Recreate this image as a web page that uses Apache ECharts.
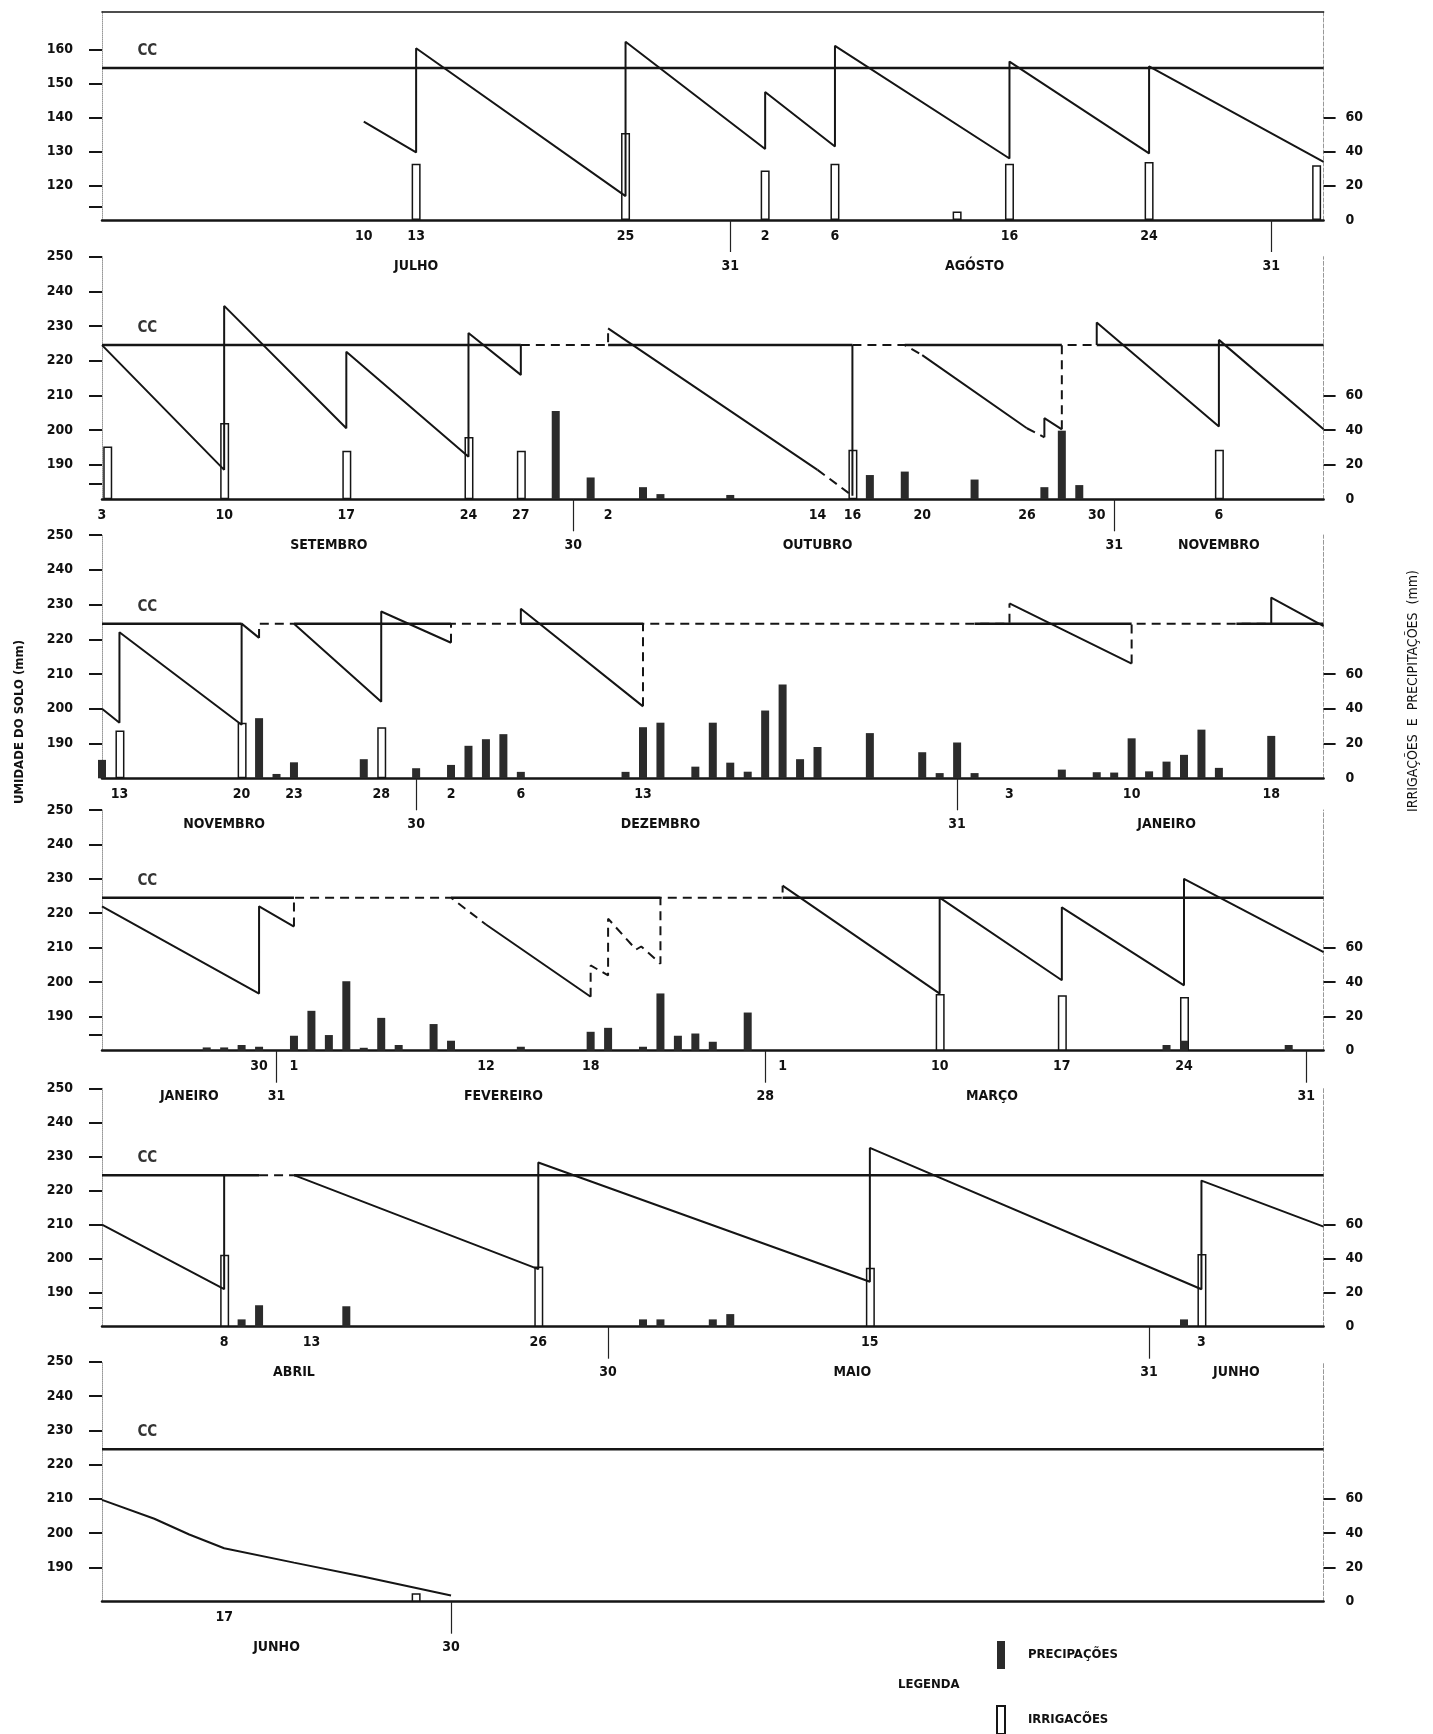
<!DOCTYPE html>
<html><head><meta charset="utf-8">
<script src="https://cdn.jsdelivr.net/npm/echarts@6/dist/echarts.min.js"></script>
<style>html,body{margin:0;padding:0;background:#fff}#c{width:1433px;height:1734px}</style>
</head><body><div id="c"></div>
<script>
// ===== DATA (day index: 1 = 1 July) =====
const p1Range = [-5, 65];
const p2Range = [65, 135];
const p3Range = [135, 205];
const p4Range = [205, 275];
const p5Range = [275, 345];
const p6Range = [345, 415];

const p1Cc = 154.5;
const ccOther = 224.5;

// date labels (first row)
const p1DayTicks = [10, 13, 25, 33, 37, 47, 55];
const p1DayLabels = ['10', '13', '25', '2', '6', '16', '24'];
const p2DayTicks = [65, 72, 79, 86, 89, 94, 106, 108, 112, 118, 122, 129];
const p2DayLabels = ['3', '10', '17', '24', '27', '2', '14', '16', '20', '26', '30', '6'];
const p3DayTicks = [136, 143, 146, 151, 155, 159, 166, 187, 194, 202];
const p3DayLabels = ['13', '20', '23', '28', '2', '6', '13', '3', '10', '18'];
const p4DayTicks = [214, 216, 227, 233, 244, 253, 260, 267];
const p4DayLabels = ['30', '1', '12', '18', '1', '10', '17', '24'];
const p5DayTicks = [282, 287, 300, 319, 338];
const p5DayLabels = ['8', '13', '26', '15', '3'];
const p6DayTicks = [352];
const p6DayLabels = ['17'];

// month row labels
const p1MonthTicks = [13, 31, 45, 62];
const p1MonthLabels = ['JULHO', '31', 'AGÓSTO', '31'];
const p2MonthTicks = [78, 92, 106, 123, 129];
const p2MonthLabels = ['SETEMBRO', '30', 'OUTUBRO', '31', 'NOVEMBRO'];
const p3MonthTicks = [142, 153, 167, 184, 196];
const p3MonthLabels = ['NOVEMBRO', '30', 'DEZEMBRO', '31', 'JANEIRO'];
const p4MonthTicks = [210, 215, 228, 243, 256, 274];
const p4MonthLabels = ['JANEIRO', '31', 'FEVEREIRO', '28', 'MARÇO', '31'];
const p5MonthTicks = [286, 304, 318, 335, 340];
const p5MonthLabels = ['ABRIL', '30', 'MAIO', '31', 'JUNHO'];
const p6MonthTicks = [355, 365];
const p6MonthLabels = ['JUNHO', '30'];

// month ends (separator ticks)
const p1MonthEnds = [31, 62];
const p2MonthEnds = [92, 123];
const p3MonthEnds = [153, 184];
const p4MonthEnds = [215, 243, 274];
const p5MonthEnds = [304, 335];
const p6MonthEnds = [365];

// left axis (soil moisture, mm) tick labels
const p1MoistLabels = [120, 130, 140, 150, 160];
const otherMoistLabels = [190, 200, 210, 220, 230, 240, 250];
// right axis (mm) tick labels
const mmLabels = [0, 20, 40, 60];
const mmTicks = [20, 40, 60];

// soil moisture lines (segments of [day, mm])
const p1MoistSolid = [[[10,138.8],[13,129.8],[13,160.3],[25,117],[25,162.2],[33,130.8],[33,147.5],[37,131.5],[37,161],[47,128],[47,156.4],[55,129.5],[55,155],[65,127]]];
const p1MoistDashed = [];
const p2MoistSolid = [
  [[65,224.5],[72,188.5],[72,235.8],[79,200.5],[79,222.6],[86,192.3],[86,228],[89,215.9],[89,224.5]],
  [[94,229.3],[106,188.5]],
  [[108,181],[108,224.5]],
  [[112,221.6],[118,200.5]],
  [[119,197.9],[119,203.4],[120,200.2]],
  [[122,224.5],[122,231],[129,201],[129,226],[135,200.2]]
];
const p2MoistDashed = [
  [[89,224.5],[94,224.5],[94,229.3]],
  [[106,188.5],[108,181]],
  [[108,224.5],[111,224.5],[112,221.6]],
  [[118,200.5],[119,197.9]],
  [[120,200.2],[120,224.5],[122,224.5]]
];
const p3MoistSolid = [
  [[135,200],[136,196],[136,222],[143,195.4],[143,224.5],[144,220.4]],
  [[146,224.5],[151,202],[151,228],[155,219]],
  [[159,224.5],[159,228.8],[166,200.7]],
  [[187,230.3],[194,213]],
  [[202,224.5],[202,232],[205,223.8]]
];
const p3MoistDashed = [
  [[144,220.4],[144,224.5],[146,224.5]],
  [[155,219],[155,224.5],[159,224.5]],
  [[166,200.7],[166,224.5],[187,224.5],[187,230.3]],
  [[194,213],[194,224.5],[202,224.5]]
];
const p4MoistSolid = [
  [[205,222],[214,196.6],[214,222],[216,216.1]],
  [[227,216.7],[233,195.7]],
  [[244,228],[253,196.6],[253,224.5],[260,200.5],[260,221.7],[267,199],[267,230],[275,208.7]]
];
const p4MoistDashed = [
  [[216,216.1],[216,224.5],[225,224.5],[227,216.7]],
  [[233,195.7],[233,204.8],[234,201.9],[234,218.4],[235.6,209.4],[235.9,210.3],[237,205.3],[237,224.5],[244,224.5],[244,228]]
];
const p5MoistSolid = [
  [[275,210],[282,191],[282,224.5]],
  [[286,224.5],[300,196.9],[300,228.2],[319,193.2],[319,232.5],[338,191],[338,222.9],[345,209.4]]
];
const p5MoistDashed = [[[284,224.5],[286,224.5]]];
const p6MoistSolid = [[[345,209.7],[348,204.2],[350,199.6],[352,195.6],[356,191.4],[360,187.3],[365,181.8]]];
const p6MoistDashed = [];

// field capacity (CC) solid stretches [from, to]
const p1CcSolid = [[-5, 65]];
const p2CcSolid = [[65, 89], [94, 108], [111, 120], [122, 135]];
const p3CcSolid = [[135, 143], [146, 155], [159, 166], [185, 194], [200, 205]];
const p4CcSolid = [[205, 216], [225, 237], [244, 275]];
const p5CcSolid = [[275, 284], [286, 345]];
const p6CcSolid = [[345, 415]];

// irrigations [day, mm]
const p1Irrigation = [[13,33],[25,51],[33,29],[37,33],[44,5],[47,33],[55,34],[64.6,32]];
const p2Irrigation = [[65.3,30.5],[72,44],[79,28],[86,36],[89,28],[108,28.6],[129,28.6]];
const p3Irrigation = [[136,27.5],[143,32],[151,29.4]];
const p4Irrigation = [[253,33],[260,32.3],[267,31.3]];
const p5Irrigation = [[282,42.3],[300,35.3],[319,34.6],[338,42.7]];
const p6Irrigation = [[363,5]];

// precipitations [day, mm]
const p1Precipitation = [];
const p2Precipitation = [[91,51],[93,12.6],[96,7],[97,3],[101,2.5],[109,14],[111,16],[115,11.4],[119,7],[120,39.6],[121,8.2]];
const p3Precipitation = [[135,10.6],[144,34.6],[145,2.5],[146,9.2],[150,11],[153,5.8],[155,7.7],[156,18.7],[157,22.5],[158,25.4],[159,3.7],[165,3.7],[166,29.4],[167,32],[169,6.7],[170,32],[171,9],[172,3.8],[173,39],[174,54],[175,11],[176,18],[179,26],[182,15],[183,3],[184,20.6],[185,3],[190,5],[192,3.5],[193,3.3],[194,23],[195,4],[196,9.6],[197,13.5],[198,28],[199,6],[202,24.4]];
const p4Precipitation = [[211,1.9],[212,1.9],[213,3.3],[214,2.3],[216,8.7],[217,23.2],[218,9.1],[219,40.4],[220,1.7],[221,19.1],[222,3.3],[224,15.5],[225,5.8],[229,2.3],[233,11],[234,13.3],[236,2.3],[237,33.3],[238,8.7],[239,10],[240,5.2],[242,22.2],[266,3.3],[267,5.8],[273,3.3]];
const p5Precipitation = [[283,4.3],[284,12.6],[289,12],[306,4.3],[307,4.3],[310,4.3],[311,7.4],[337,4.3]];
const p6Precipitation = [];

// ===== BUILD =====
const FONT = "'DejaVu Sans Condensed','Liberation Sans Narrow','DejaVu Sans',sans-serif";
const INK = '#151515';
const gridTops = [11.7, 256.7, 535, 810, 1088.3, 1361.7];
const gridHeights = [208.3, 242.6, 243.3, 240.7, 238.4, 240];

const panels = [
  {range:p1Range, cc:p1Cc, yMin:110, yMax:171, moistLabels:p1MoistLabels, breakTick:114, dayTicks:p1DayTicks, dayLabels:p1DayLabels, monthTicks:p1MonthTicks, monthLabels:p1MonthLabels, monthEnds:p1MonthEnds, solid:p1MoistSolid, dashed:p1MoistDashed, ccSolid:p1CcSolid, irr:p1Irrigation, pre:p1Precipitation},
  {range:p2Range, cc:ccOther, yMin:180, yMax:250, moistLabels:otherMoistLabels, breakTick:184.5, dayTicks:p2DayTicks, dayLabels:p2DayLabels, monthTicks:p2MonthTicks, monthLabels:p2MonthLabels, monthEnds:p2MonthEnds, solid:p2MoistSolid, dashed:p2MoistDashed, ccSolid:p2CcSolid, irr:p2Irrigation, pre:p2Precipitation},
  {range:p3Range, cc:ccOther, yMin:180, yMax:250, moistLabels:otherMoistLabels, breakTick:null, dayTicks:p3DayTicks, dayLabels:p3DayLabels, monthTicks:p3MonthTicks, monthLabels:p3MonthLabels, monthEnds:p3MonthEnds, solid:p3MoistSolid, dashed:p3MoistDashed, ccSolid:p3CcSolid, irr:p3Irrigation, pre:p3Precipitation},
  {range:p4Range, cc:ccOther, yMin:180, yMax:250, moistLabels:otherMoistLabels, breakTick:184.5, dayTicks:p4DayTicks, dayLabels:p4DayLabels, monthTicks:p4MonthTicks, monthLabels:p4MonthLabels, monthEnds:p4MonthEnds, solid:p4MoistSolid, dashed:p4MoistDashed, ccSolid:p4CcSolid, irr:p4Irrigation, pre:p4Precipitation},
  {range:p5Range, cc:ccOther, yMin:180, yMax:250, moistLabels:otherMoistLabels, breakTick:185.5, dayTicks:p5DayTicks, dayLabels:p5DayLabels, monthTicks:p5MonthTicks, monthLabels:p5MonthLabels, monthEnds:p5MonthEnds, solid:p5MoistSolid, dashed:p5MoistDashed, ccSolid:p5CcSolid, irr:p5Irrigation, pre:p5Precipitation},
  {range:p6Range, cc:ccOther, yMin:180, yMax:250, moistLabels:otherMoistLabels, breakTick:null, dayTicks:p6DayTicks, dayLabels:p6DayLabels, monthTicks:p6MonthTicks, monthLabels:p6MonthLabels, monthEnds:p6MonthEnds, solid:p6MoistSolid, dashed:p6MoistDashed, ccSolid:p6CcSolid, irr:p6Irrigation, pre:p6Precipitation}
];

function flat(list) {
  const out = [];
  list.forEach((s, i) => { if (i > 0) out.push([s[0][0], '-']); s.forEach(p => out.push(p)); });
  return out;
}
function ccFlat(list, cc) { return flat(list.map(([a, b]) => [[a, cc], [b, cc]])); }

const grids = [], xAxes = [], yAxes = [], series = [];
const lblStyle = {fontFamily: FONT, fontWeight: 'bold', color: '#111'};

panels.forEach((p, i) => {
  grids.push({left: 102, width: 1221.6, top: gridTops[i], height: gridHeights[i]});
  const dayMap = {}; p.dayTicks.forEach((d, k) => dayMap[d] = p.dayLabels[k]);
  const monMap = {}; p.monthTicks.forEach((d, k) => monMap[d] = p.monthLabels[k]);
  const xi = xAxes.length;
  xAxes.push({type: 'value', gridIndex: i, min: p.range[0], max: p.range[1], position: 'bottom',
    axisLine: {show: true, onZero: false, lineStyle: {color: INK, width: 2.5}},
    axisTick: {show: true, customValues: p.monthEnds, length: 32, lineStyle: {color: '#222', width: 1.2}},
    axisLabel: Object.assign({customValues: p.dayTicks, formatter: v => dayMap[v] ?? '', margin: 9, fontSize: 14}, lblStyle),
    splitLine: {show: false}});
  xAxes.push({type: 'value', gridIndex: i, min: p.range[0], max: p.range[1], position: 'bottom', offset: 30,
    axisLine: {show: false, onZero: false}, axisTick: {show: false},
    axisLabel: Object.assign({customValues: p.monthTicks, formatter: v => monMap[v] ?? '', margin: 9, fontSize: 14}, lblStyle),
    splitLine: {show: false}});
  if (i === 0) {
    xAxes.push({type: 'value', gridIndex: i, min: p.range[0], max: p.range[1], position: 'top',
      axisLine: {show: true, onZero: false, lineStyle: {color: INK, width: 1.6}},
      axisTick: {show: false}, axisLabel: {show: false}, splitLine: {show: false}});
  }
  const yi = yAxes.length;
  const leftTicks = p.moistLabels.slice(); if (p.breakTick != null) leftTicks.push(p.breakTick);
  yAxes.push({type: 'value', gridIndex: i, position: 'left', min: p.yMin, max: p.yMax,
    axisLine: {show: true, onZero: false, lineStyle: {color: '#999', type: 'dotted', width: 1}},
    axisTick: {show: true, customValues: leftTicks, length: 13, lineStyle: {color: INK, width: 2}},
    axisLabel: Object.assign({customValues: p.moistLabels, margin: 29, fontSize: 14}, lblStyle),
    splitLine: {show: false}});
  yAxes.push({type: 'value', gridIndex: i, position: 'right', min: 0, max: 2 * (p.yMax - p.yMin),
    axisLine: {show: true, onZero: false, lineStyle: {color: '#999', type: 'dashed', width: 1}},
    axisTick: {show: true, customValues: mmTicks, length: 12, lineStyle: {color: INK, width: 2}},
    axisLabel: Object.assign({customValues: mmLabels, margin: 22, fontSize: 14}, lblStyle),
    splitLine: {show: false}});

  if (p.irr.length) series.push({type: 'bar', name: 'IRRIGACÕES', xAxisIndex: xi, yAxisIndex: yi + 1, data: p.irr,
    barWidth: 9, barGap: '-100%', itemStyle: {color: '#fff', borderColor: INK, borderWidth: 1.5}, z: 2});
  if (p.pre.length) series.push({type: 'bar', name: 'PRECIPAÇÕES', xAxisIndex: xi, yAxisIndex: yi + 1, data: p.pre,
    barWidth: 8, barGap: '-100%', itemStyle: {color: '#2b2b2b'}, z: 2});
  series.push({type: 'line', name: 'CC', xAxisIndex: xi, yAxisIndex: yi, data: ccFlat(p.ccSolid, p.cc),
    showSymbol: false, lineStyle: {color: INK, width: 2.5}, z: 3});
  series.push({type: 'line', name: 'umidade', xAxisIndex: xi, yAxisIndex: yi, data: flat(p.solid),
    showSymbol: false, lineStyle: {color: INK, width: 2}, z: 4});
  if (p.dashed.length) series.push({type: 'line', name: 'umidade cc', xAxisIndex: xi, yAxisIndex: yi, data: flat(p.dashed),
    showSymbol: false, lineStyle: {color: INK, width: 2, type: [9, 6]}, z: 4});
  series.push({type: 'scatter', name: 'cclabel', xAxisIndex: xi, yAxisIndex: yi, data: [[p.range[0] + 2.6, p.cc]],
    symbolSize: 1, itemStyle: {color: 'rgba(0,0,0,0)'}, z: 5,
    label: Object.assign({show: true, formatter: 'CC', position: 'top', distance: 9, fontSize: 15}, lblStyle, {color: '#000'})});
});

const chart = echarts.init(document.getElementById('c'), null, {renderer: 'canvas'});
chart.setOption({
  backgroundColor: '#fff',
  animation: false,
  grid: grids, xAxis: xAxes, yAxis: yAxes, series: series,
  legend: {data: ['PRECIPAÇÕES', 'IRRIGACÕES'], orient: 'vertical', left: 996, top: 1641, height: 100, padding: 0,
    itemWidth: 8, itemHeight: 28, itemGap: 36, icon: 'rect', selectedMode: false,
    textStyle: {fontFamily: FONT, fontWeight: 'bold', fontSize: 13, color: '#111', padding: [0, 0, 0, 18]}},
  graphic: [
    {type: 'text', x: 20, y: 722, rotation: Math.PI / 2,
      style: {text: 'UMIDADE DO SOLO (mm)', align: 'center', verticalAlign: 'middle', font: "bold 13px " + FONT, fill: '#111'}},
    {type: 'text', x: 1413, y: 691, rotation: Math.PI / 2,
      style: {text: 'IRRIGAÇÕES  E  PRECIPITAÇÕES  (mm)', align: 'center', verticalAlign: 'middle', font: "14px " + FONT, fill: '#111'}},
    {type: 'text', x: 898, y: 1685,
      style: {text: 'LEGENDA', align: 'left', verticalAlign: 'middle', font: "bold 13px " + FONT, fill: '#111'}}
  ]
});
</script>
</body></html>
